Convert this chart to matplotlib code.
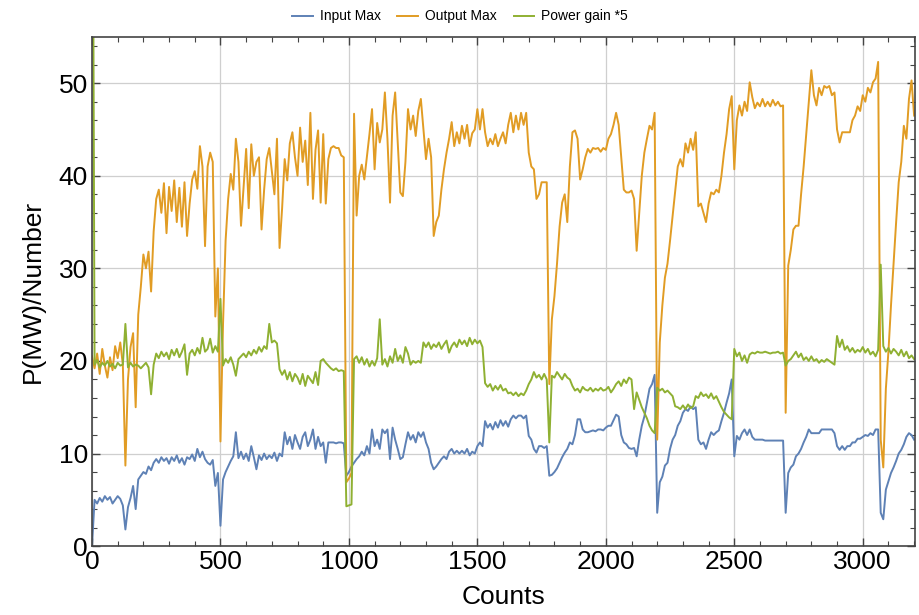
# Input / output power per count, with power gain scaled by 5

import numpy as np
import matplotlib.pyplot as plt

# Readings, one value every 10 counts (0 .. 3200)
input_max = [
    0.0, 5.0, 4.6, 5.2, 4.8, 5.4, 5.0, 5.3, 4.6, 5.0,
    5.4, 5.1, 4.4, 1.8, 4.2, 5.2, 6.5, 4.0, 7.2, 7.6,
    8.0, 7.8, 8.6, 8.2, 9.0, 9.4, 9.0, 9.6, 9.2, 9.5,
    8.9, 9.6, 9.2, 9.8, 9.0, 9.5, 8.8, 9.6, 9.4, 9.9,
    9.2, 10.5, 9.6, 10.2, 9.4, 9.0, 8.8, 9.3, 6.5, 7.9,
    2.2, 7.2, 8.0, 8.6, 9.2, 9.7, 12.3, 9.5, 10.2, 9.4,
    10.0, 9.2, 10.8, 9.6, 8.3, 9.8, 9.3, 10.0, 9.4, 9.8,
    9.5, 10.1, 9.2, 10.0, 9.7, 12.3, 11.0, 11.8, 10.5, 12.0,
    11.2, 10.5, 11.8, 12.3, 10.8, 11.5, 12.6, 10.5, 11.8, 10.8,
    11.2, 9.0, 11.2, 11.2, 11.2, 11.1, 11.2, 11.2, 11.1, 7.6,
    8.0, 8.6, 9.0, 9.4, 9.7, 10.2, 9.8, 10.8, 10.0, 12.6,
    10.8, 11.5, 10.5, 12.6, 12.2, 12.6, 9.4, 12.8, 11.5, 10.5,
    9.4, 9.6, 11.0, 12.3, 11.5, 12.0, 11.2, 12.3, 11.8, 12.3,
    11.2, 10.5, 9.0, 8.3, 8.6, 9.0, 9.4, 9.7, 9.4, 10.2,
    10.5, 10.0, 10.3, 10.0, 10.3, 10.0, 10.5, 9.8, 10.2, 10.0,
    10.8, 11.2, 10.8, 13.5, 12.8, 13.2, 12.6, 13.4, 12.8, 13.6,
    13.0, 13.5, 12.9, 13.7, 14.1, 13.8, 14.1, 14.1, 13.8, 14.1,
    11.9, 11.5, 10.5, 10.1, 10.8, 10.8, 10.6, 10.8, 7.6, 7.7,
    8.0, 8.4, 9.0, 9.6, 10.1, 10.5, 11.2, 11.0, 12.0, 13.7,
    13.7, 12.6, 12.3, 12.3, 12.4, 12.5, 12.4, 12.6, 12.6, 12.5,
    12.8, 13.0, 13.0, 13.6, 14.2, 14.0, 12.0, 11.2, 11.0, 10.6,
    10.5, 10.6, 9.7, 11.5, 13.0, 14.0, 15.5, 17.0, 17.5, 18.5,
    3.6, 6.9, 7.5, 8.7, 9.0, 10.5, 11.5, 12.0, 13.0, 13.5,
    14.4, 14.8, 14.6, 15.1, 14.8, 15.0, 11.5, 11.0, 11.2, 10.5,
    11.5, 12.3, 12.0, 12.3, 12.5, 13.5, 14.4, 15.5, 16.5, 18.0,
    9.7, 11.9, 11.5, 12.2, 12.6, 12.0, 12.6, 11.8, 11.5, 11.5,
    11.5, 11.5, 11.4, 11.4, 11.4, 11.4, 11.4, 11.4, 11.4, 11.4,
    3.6, 7.9, 8.5, 8.8, 9.7, 10.0, 10.5, 11.2, 11.8, 12.6,
    12.2, 12.2, 12.2, 12.2, 12.6, 12.6, 12.6, 12.6, 12.6, 12.2,
    10.8, 10.4, 10.8, 10.4, 10.8, 10.8, 11.2, 11.2, 11.6, 11.6,
    11.8, 12.0, 11.9, 12.2, 12.0, 12.6, 12.6, 3.6, 2.9, 6.1,
    7.0, 7.9, 8.5, 9.2, 10.0, 10.4, 11.0, 11.8, 12.2, 12.0,
    11.5,
]

output_max = [
    20.5, 19.2, 20.8, 18.6, 21.3, 19.5, 18.2, 20.4, 19.0, 21.6,
    20.3, 22.0, 19.6, 8.7, 18.0, 21.5, 23.0, 15.0, 25.0, 28.0,
    31.5, 30.0, 31.8, 27.5, 34.0, 37.5, 38.5, 36.0, 39.2, 33.8,
    38.8, 36.2, 39.5, 35.0, 38.7, 34.5, 39.3, 33.5, 37.0, 39.6,
    40.5, 38.6, 43.2, 41.0, 32.4, 41.0, 42.5, 41.5, 24.8, 30.0,
    11.3, 24.0, 33.0, 37.5, 40.2, 38.5, 44.0, 41.5, 34.6, 38.8,
    42.9, 36.5, 43.4, 40.0, 41.5, 42.0, 34.2, 38.5, 41.8, 43.0,
    40.5, 38.0, 44.0, 32.2, 36.5, 41.8, 39.5, 43.5, 44.7, 42.0,
    40.0, 45.2, 41.5, 43.8, 39.0, 46.8, 37.5, 42.8, 44.9, 37.1,
    44.5, 37.0, 41.8, 43.0, 43.2, 43.0, 43.0, 42.2, 42.0, 6.9,
    7.3, 7.9, 46.7, 35.7, 40.0, 41.2, 39.6, 42.0, 44.5, 47.2,
    40.7, 45.7, 43.6, 45.0, 49.0, 44.0, 37.1, 46.5, 49.0, 43.6,
    38.2, 37.8, 41.5, 47.2, 45.0, 46.5, 44.3, 47.0, 48.3, 45.0,
    41.8, 44.0, 42.0, 33.5, 35.0, 35.7, 38.5, 40.7, 42.5, 44.0,
    45.8, 43.2, 44.7, 43.5, 45.4, 44.0, 45.5, 43.2, 44.6, 45.0,
    47.2, 45.0, 47.2, 44.7, 43.2, 44.0, 43.4, 44.5, 43.2, 44.0,
    44.7, 43.5, 45.5, 46.8, 44.7, 46.5, 45.0, 46.8, 45.5, 46.8,
    42.5, 41.0, 40.7, 37.5, 38.0, 39.3, 39.3, 39.3, 17.5, 24.5,
    27.0, 30.5, 34.5, 37.1, 38.0, 35.0, 41.0, 44.7, 44.9, 44.0,
    39.6, 40.7, 42.0, 42.9, 42.5, 43.0, 42.9, 43.0, 42.6, 43.0,
    42.8, 44.0, 44.5, 45.5, 46.8, 45.5, 42.0, 38.5, 38.2, 38.2,
    38.4, 37.5, 31.9, 36.0, 40.0, 42.5, 44.0, 45.4, 45.0, 46.8,
    11.5, 22.0, 26.0, 29.0, 30.5, 33.0, 35.7, 38.5, 41.0, 41.8,
    41.0, 43.5, 42.5, 44.0, 42.8, 44.7, 36.7, 37.0, 36.0, 35.0,
    37.0, 38.2, 38.0, 38.5, 38.2, 40.0, 42.5, 44.5, 47.2, 48.6,
    40.7, 46.0, 47.6, 46.5, 48.0, 47.0, 50.1, 48.5, 47.3, 47.9,
    47.5, 48.3, 47.5, 48.0, 47.5, 48.2, 47.6, 48.0, 47.5, 47.6,
    14.4, 30.3, 32.0, 34.2, 34.6, 34.6, 38.0, 41.0, 44.5, 48.0,
    51.4, 48.7, 47.6, 49.5, 48.7, 49.7, 49.5, 49.7, 48.7, 49.0,
    45.0, 43.6, 44.7, 44.7, 44.7, 44.7, 46.0, 46.5, 47.5, 47.0,
    48.7, 48.0, 49.5, 49.0, 50.1, 50.5, 52.3, 11.5, 8.5, 17.0,
    21.0, 26.0, 30.5, 35.0, 39.3, 41.5, 45.4, 44.0, 48.3, 50.3,
    46.5,
]

# gain * 5 (first sample blows up because input is 0)
power_gain5 = [
    100.0, 19.6, 20.1, 19.3, 19.8, 19.5, 20.0, 19.4, 19.7, 19.2,
    19.8, 19.5, 19.6, 24.0, 19.3, 19.8, 19.4, 19.6, 19.5, 19.2,
    19.5, 19.8, 19.3, 16.4, 19.6, 20.8, 20.3, 21.0, 20.5, 20.9,
    20.2, 21.2, 20.6, 21.3, 20.4, 21.0, 21.8, 18.5, 20.8, 21.2,
    20.6, 21.4, 20.8, 22.5, 21.0, 21.3, 22.4, 20.9, 21.6, 21.0,
    26.7, 19.5, 20.2, 19.8, 20.4, 19.6, 18.4, 20.2, 20.5, 20.8,
    20.4, 21.0, 20.6, 21.2, 20.8, 21.5, 21.0, 21.6, 21.3, 24.0,
    22.0, 22.2, 21.9, 19.1, 18.5, 19.0, 18.0, 18.8, 17.8, 18.6,
    18.2, 17.5, 18.6, 17.3, 18.4, 18.0, 17.6, 18.8, 17.4, 20.0,
    20.2, 19.8, 19.5, 19.2, 19.0, 19.2, 18.9, 19.0, 18.9, 4.3,
    4.4, 4.5, 20.2, 20.5, 19.8, 20.4, 19.6, 20.2, 19.4, 20.0,
    19.5, 20.3, 24.5, 19.6, 20.2, 19.4, 20.5, 19.8, 21.3, 20.0,
    20.6, 19.8, 21.5, 20.8, 19.6, 20.0, 19.8, 20.0, 19.8, 22.0,
    21.5, 22.0, 21.3, 21.8, 21.5, 22.0, 21.3, 21.8, 22.2, 20.9,
    21.6, 22.0, 21.5, 22.3, 21.8, 22.2, 21.6, 22.5, 21.8, 22.3,
    21.9, 22.2, 21.5, 17.6, 17.2, 17.5, 16.8, 17.3, 16.9, 17.4,
    16.8, 17.0, 16.5, 16.6, 16.3, 16.6, 16.2, 16.5, 16.3, 16.8,
    17.5, 18.0, 18.8, 18.2, 18.5, 18.0, 18.6, 18.0, 11.2, 18.4,
    18.2, 18.8, 18.4, 18.0, 18.6, 18.2, 18.0, 17.3, 16.8, 17.0,
    16.6, 17.2, 16.9, 16.8, 17.1, 16.7, 17.0, 16.8, 17.1, 16.8,
    16.9, 17.2, 16.6, 17.0, 17.5, 17.8, 17.3, 18.0, 17.6, 18.2,
    18.0, 14.8, 16.6, 15.8, 15.0, 14.4, 13.8, 13.0, 12.5, 12.2,
    17.1, 16.8, 17.0, 16.6, 16.8, 16.5, 16.2, 15.1, 15.0, 14.8,
    15.2, 14.8, 15.3, 14.9, 15.1, 16.2, 16.0, 16.6, 16.2, 16.4,
    16.0, 16.5, 15.9, 16.2, 15.6, 15.0, 14.5, 14.2, 13.9, 13.7,
    21.3, 20.5, 20.9, 20.0, 20.6, 19.8, 20.7, 20.9, 20.8, 21.0,
    20.9, 20.9, 21.0, 20.9, 20.8, 20.9, 20.9, 21.0, 20.8, 20.9,
    19.5, 20.0, 20.2, 20.6, 21.0, 20.4, 20.8, 20.1, 20.4, 20.0,
    20.5, 20.0, 20.2, 19.8, 20.1, 19.9, 20.2, 20.0, 19.8, 19.6,
    22.7, 21.5, 22.3, 21.2, 21.6, 21.0, 21.4, 20.9, 21.2, 21.0,
    21.5, 20.9, 21.3, 20.7, 21.0, 20.5, 21.2, 30.4, 21.6, 21.0,
    21.4, 20.8, 21.3, 21.0, 20.6, 21.2, 20.5, 21.0, 20.3, 20.6,
    20.2,
]

labels = ['Input Max', 'Output Max', 'Power gain *5']
colors = ['#5e81b5', '#e19c24', '#8fb032']

plt.rcParams['font.family'] = ['Liberation Sans', 'DejaVu Sans']

fig = plt.figure(figsize=(9.2, 6.15), dpi=100)
ax = fig.add_axes([0.1, 0.112, 0.895, 0.828])

for y, lab, c in zip([input_max, output_max, power_gain5], labels, colors):
    counts = np.arange(len(y)) * 10
    ax.plot(counts, y, color=c, lw=1.4, label=lab)

ax.set_xlim(0, 3205)
ax.set_ylim(0, 55)
ax.set_xticks(np.arange(0, 3001, 500))
ax.set_xticks(np.arange(0, 3201, 100), minor=True)
ax.set_yticks(np.arange(0, 51, 10))
ax.set_yticks(np.arange(0, 55, 2), minor=True)

ax.grid(True, which='major', color='#cfcfcf', lw=0.9)
ax.set_axisbelow(True)
ax.tick_params(which='both', direction='in', top=True, right=True,
               color='#444444', labelsize=19, pad=3)
ax.tick_params(which='major', length=6, width=1)
ax.tick_params(which='minor', length=3.5, width=0.8)
for sp in ax.spines.values():
    sp.set_color('#444444')
    sp.set_linewidth(1.2)

ax.set_xlabel('Counts', fontsize=19, labelpad=8)
ax.set_ylabel('P(MW)/Number', fontsize=19, labelpad=10)

fig.legend(loc='upper center', bbox_to_anchor=(0.5, 1.005), ncol=3,
           frameon=False, fontsize=10, handlelength=1.5, columnspacing=1.2,
           handletextpad=0.5)

plt.savefig('out.png', dpi=100)
